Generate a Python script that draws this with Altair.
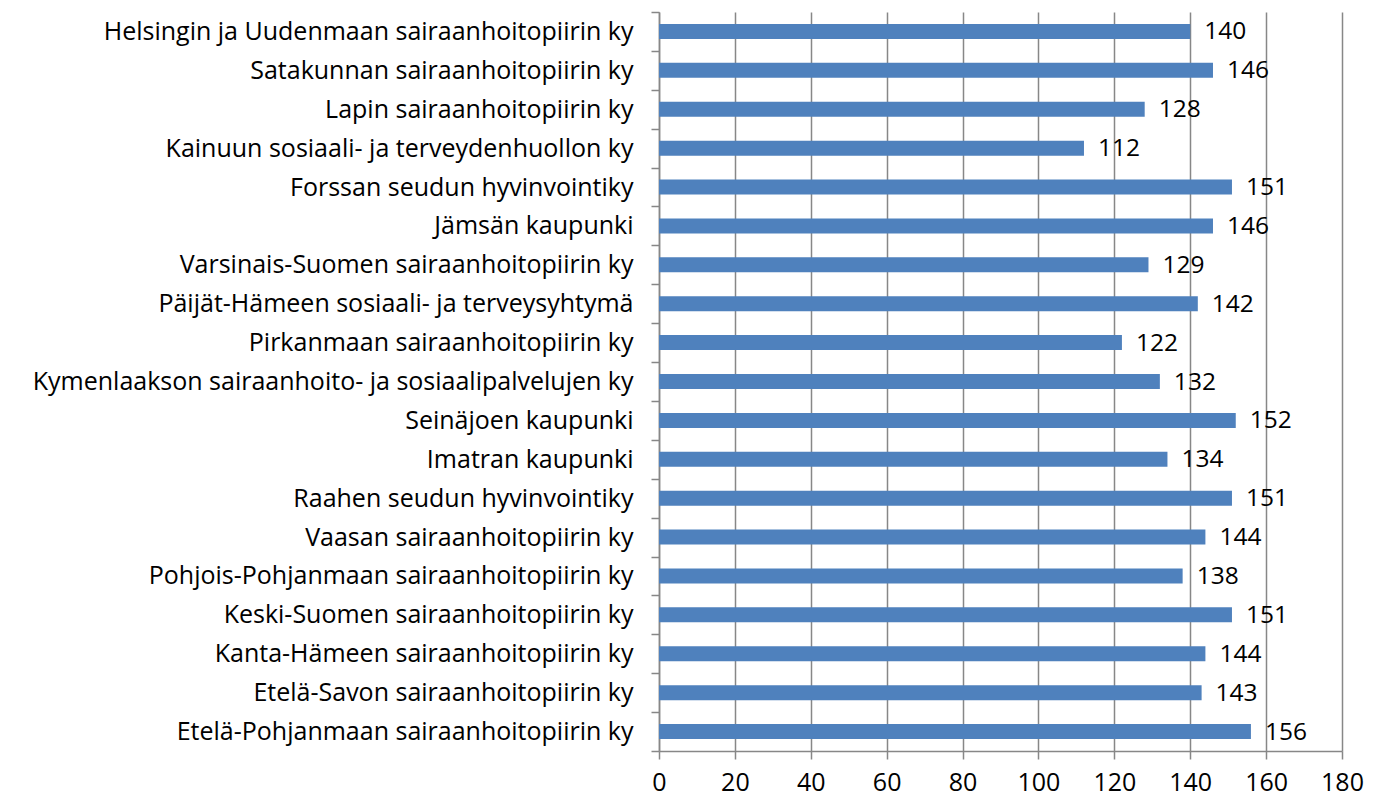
import altair as alt
import pandas as pd

categories = [
    "Helsingin ja Uudenmaan sairaanhoitopiirin ky",
    "Satakunnan sairaanhoitopiirin ky",
    "Lapin sairaanhoitopiirin ky",
    "Kainuun sosiaali- ja terveydenhuollon ky",
    "Forssan seudun hyvinvointiky",
    "Jämsän kaupunki",
    "Varsinais-Suomen sairaanhoitopiirin ky",
    "Päijät-Hämeen sosiaali- ja terveysyhtymä",
    "Pirkanmaan sairaanhoitopiirin ky",
    "Kymenlaakson sairaanhoito- ja sosiaalipalvelujen ky",
    "Seinäjoen kaupunki",
    "Imatran kaupunki",
    "Raahen seudun hyvinvointiky",
    "Vaasan sairaanhoitopiirin ky",
    "Pohjois-Pohjanmaan sairaanhoitopiirin ky",
    "Keski-Suomen sairaanhoitopiirin ky",
    "Kanta-Hämeen sairaanhoitopiirin ky",
    "Etelä-Savon sairaanhoitopiirin ky",
    "Etelä-Pohjanmaan sairaanhoitopiirin ky",
]
values = [140, 146, 128, 112, 151, 146, 129, 142, 122, 132, 152, 134, 151, 144, 138, 151, 144, 143, 156]
x_ticks = [0, 20, 40, 60, 80, 100, 120, 140, 160, 180]

df = pd.DataFrame({"name": categories, "value": values})

FONT = "Open Sans"
GRAY = "#878787"

y = alt.Y("name:N", sort=categories, title=None,
          scale=alt.Scale(paddingInner=0, paddingOuter=0),
          axis=alt.Axis(labelFontSize=25, labelFont=FONT, labelColor="black",
                        labelPadding=18, tickSize=8, tickColor=GRAY, domainColor=GRAY,
                        tickBand="extent", labelLimit=700, grid=False))
x = alt.X("value:Q", title=None,
          scale=alt.Scale(domain=[0, 180], nice=False),
          axis=alt.Axis(values=x_ticks, labelFontSize=25, labelFont=FONT, labelColor="black",
                        tickSize=8, tickColor=GRAY, domainColor=GRAY, gridColor=GRAY,
                        labelPadding=11, grid=True, labelFlush=False))

bars = alt.Chart(df).mark_bar(color="#4F81BD", height=15).encode(x=x, y=y)
labels = alt.Chart(df).mark_text(align="left", baseline="middle", dx=14, dy=1,
                                 font=FONT, fontSize=24.5, color="black").encode(
    x="value:Q", y=alt.Y("name:N", sort=categories), text="value:Q")

chart = (bars + labels).properties(
    width=683, height=739,
    autosize=alt.AutoSizeParams(type="none"),
    padding={"left": 651, "top": 4, "right": 24, "bottom": 46},
).configure_view(stroke=None).configure_axis(gridWidth=1.5, domainWidth=1.5, tickWidth=1.5)

chart.save("out.html", embed_options={"renderer": "svg", "actions": False})
